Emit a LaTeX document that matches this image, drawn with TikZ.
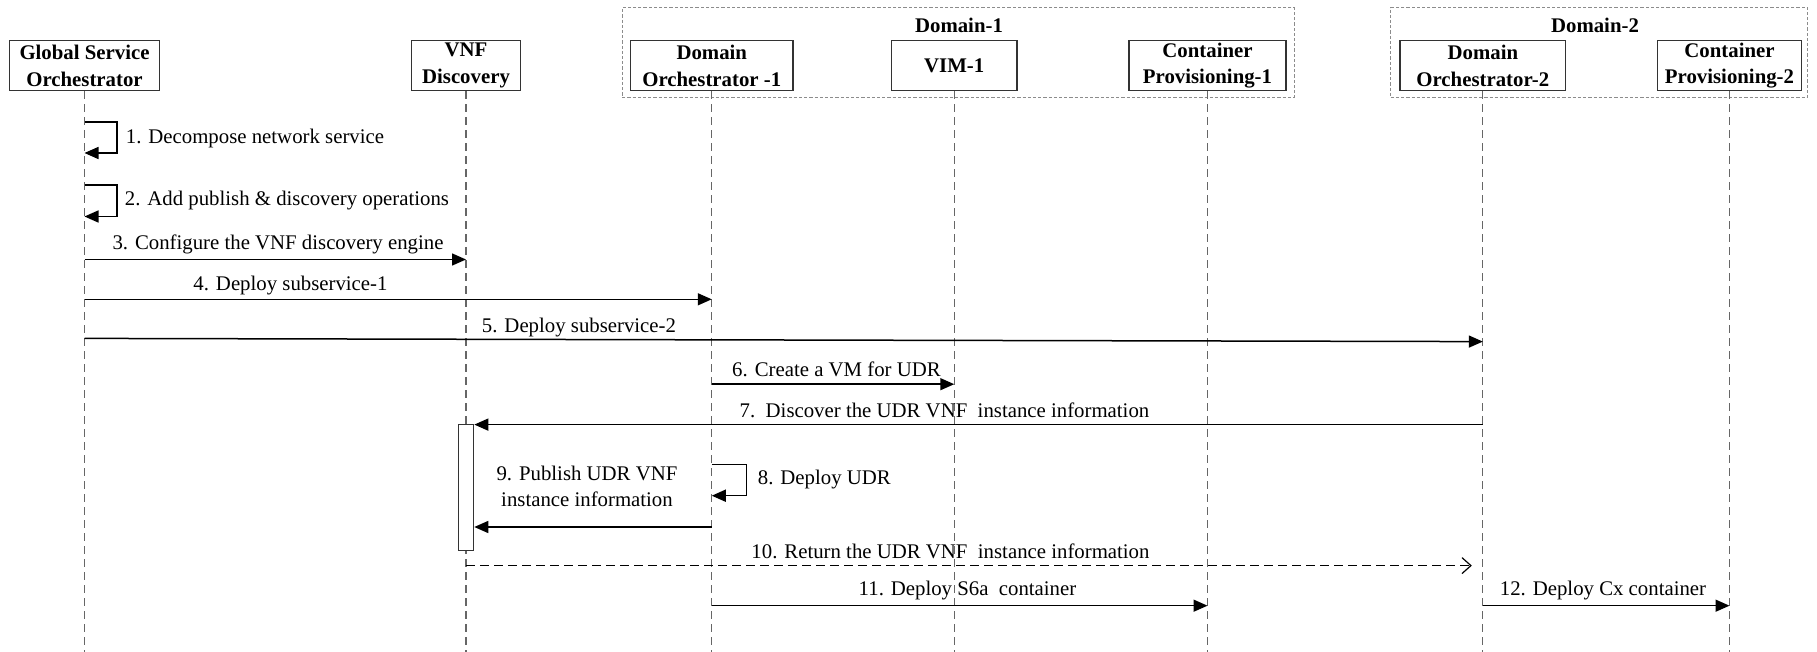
\documentclass[tikz,border=0pt]{standalone}
\usepackage{fontspec}
\setmainfont{Liberation Serif}
\usetikzlibrary{arrows.meta}

\begin{document}
\begin{tikzpicture}[x=0.5pt,y=-0.5pt,
  actor/.style={draw=black!80, line width=0.6pt, fill=white, align=center,
    font=\fontsize{10.4}{13.3}\selectfont\bfseries, inner sep=0pt, minimum height=25pt},
  domainbox/.style={draw=black!45, line width=0.5pt, dash pattern=on 1.6pt off 1pt},
  domaintitle/.style={font=\fontsize{10.4}{13.3}\selectfont\bfseries, inner sep=0pt},
  lifeline/.style={draw=black!60, line width=0.55pt, dash pattern=on 4pt off 2.5pt},
  msg/.style={draw=black, line width=0.75pt, -{Triangle[length=7pt,width=6pt]}},
  reply/.style={draw=black, line width=0.6pt, dash pattern=on 4.5pt off 2.5pt,
    -{Straight Barb[length=4.5pt,width=8pt,line width=0.6pt]}},
  lbl/.style={font=\fontsize{10.4}{12.9}\selectfont, inner sep=0pt, align=center,
    text height=7.3pt, text depth=2.3pt},
  activation/.style={draw=black!80, line width=0.6pt, fill=white}
]
\useasboundingbox (0,0) rectangle (1817,652);

% domain frames
\node[domainbox, minimum width=336pt, minimum height=44.8pt, inner sep=0pt]
  (dom1) at (958.25,52.4) {};
\node[domainbox, minimum width=208.5pt, minimum height=44.8pt, inner sep=0pt]
  (dom2) at (1599.2,52.4) {};
\node[domaintitle] (dom1title) at (959,25) {Domain-1};
\node[domaintitle] (dom2title) at (1595,25) {Domain-2};

% participants
\node[actor, minimum width=75.25pt] (gso) at (84.5,65.7) {Global Service\\Orchestrator};
\node[actor, minimum width=54.8pt]  (vnf) at (466,65.7) {VNF\\Discovery};
\node[actor, minimum width=81.25pt] (do1) at (711.75,65.7) {Domain\\Orchestrator -1};
\node[actor, minimum width=62.75pt] (vim) at (954.25,65.7) {VIM-1};
\node[actor, minimum width=78.5pt]  (cp1) at (1207.5,65.7) {Container\\Provisioning-1};
\node[actor, minimum width=82.85pt] (do2) at (1482.85,65.7) {Domain\\Orchestrator-2};
\node[actor, minimum width=72.2pt]  (cp2) at (1729.5,65.7) {Container\\Provisioning-2};

% lifelines
\coordinate (bottom) at (0,652);
\foreach \p in {gso,vnf,do1,vim,cp1,do2,cp2}
  \draw[lifeline] (\p.south) -- (\p.south |- bottom);

% message rows
\coordinate (y1a) at (0,122);   \coordinate (y1b) at (0,153);
\coordinate (y2a) at (0,185);   \coordinate (y2b) at (0,216.5);
\coordinate (y3) at (0,259.5);
\coordinate (y4) at (0,299.3);
\coordinate (y5a) at (0,338.4); \coordinate (y5b) at (0,341.6);
\coordinate (y6) at (0,384.2);
\coordinate (y7) at (0,424.6);
\coordinate (y8a) at (0,464.3); \coordinate (y8b) at (0,495.7);
\coordinate (y9) at (0,527);
\coordinate (y10) at (0,565.6);
\coordinate (y11) at (0,605.7);
\coordinate (loopx) at (117,0);
\coordinate (loop8x) at (746.3,0);

% activation bar on the discovery lifeline
\node[activation, minimum width=7.7pt, minimum height=63.2pt, inner sep=0pt]
  (act) at (466,487.5) {};

% 1, 2: self calls of the global orchestrator
\draw[msg] (gso |- y1a) -- (loopx |- y1a) -- (loopx |- y1b) -- (gso |- y1b);
\node[lbl, anchor=west] (t1) at (125.5,139) {1. Decompose network service};
\draw[msg] (gso |- y2a) -- (loopx |- y2a) -- (loopx |- y2b) -- (gso |- y2b);
\node[lbl, anchor=west] (t2) at (124.5,200.5) {2. Add publish \& discovery operations};

% 3, 4, 5
\draw[msg] (gso |- y3) -- (vnf |- y3);
\node[lbl] (t3) at (278,245) {3. Configure the VNF discovery engine};
\draw[msg] (gso |- y4) -- (do1 |- y4);
\node[lbl] (t4) at (290.5,286) {4. Deploy subservice-1};
\draw[msg] (gso |- y5a) -- (do2 |- y5b);
\node[lbl] (t5) at (579,327.5) {5. Deploy subservice-2};

% 6
\draw[msg] (do1 |- y6) -- (vim |- y6);
\node[lbl] (t6) at (836.5,371.5) {6. Create a VM for UDR};

% 7
\draw[msg] (do2 |- y7) -- (act.east |- y7);
\node[lbl] (t7) at (944.5,412.5) {7.\ \ Discover the UDR VNF\ \ instance information};

% 8
\draw[msg] (do1 |- y8a) -- (loop8x |- y8a) -- (loop8x |- y8b) -- (do1 |- y8b);
\node[lbl, anchor=west] (t8) at (757.5,480) {8. Deploy UDR};

% 9
\draw[msg] (do1 |- y9) -- (act.east |- y9);
\node[lbl] (t9) at (587,501.2) {9. Publish UDR VNF\\instance information};

% 10
\draw[reply, shorten >=5.5pt] (vnf |- y10) -- (do2 |- y10);
\node[lbl] (t10) at (950.5,554) {10. Return the UDR VNF\ \ instance information};

% 11, 12
\draw[msg] (do1 |- y11) -- (cp1 |- y11);
\node[lbl] (t11) at (967.5,590.7) {11. Deploy S6a\ \ container};
\draw[msg] (do2 |- y11) -- (cp2 |- y11);
\node[lbl] (t12) at (1603,590.7) {12. Deploy Cx container};
\end{tikzpicture}
\end{document}
